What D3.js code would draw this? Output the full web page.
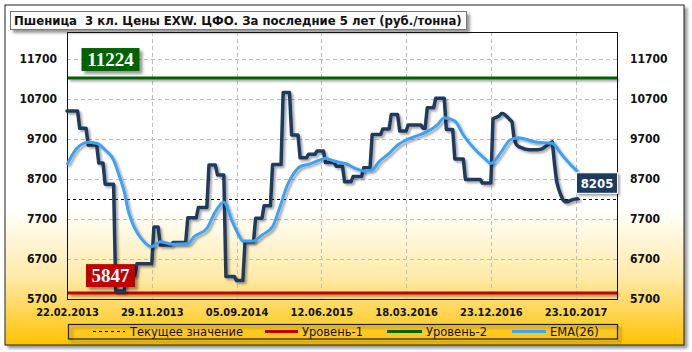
<!DOCTYPE html>
<html><head><meta charset="utf-8">
<script src="https://cdn.jsdelivr.net/npm/d3@7"></script>
<style>
body{margin:0;background:#fff}
text{font-family:"DejaVu Sans Condensed","DejaVu Sans",sans-serif;font-stretch:condensed}
</style>
</head><body>
<svg id="c" width="692" height="352"></svg>
<script>
// ---------------- data ----------------
const titleText = "Пшеница  3 кл. Цены EXW. ЦФО. За последние 5 лет (руб./тонна)";
const yTicks = [5700, 6700, 7700, 8700, 9700, 10700, 11700];
const dateLabels = ["22.02.2013","29.11.2013","05.09.2014","12.06.2015","18.03.2016","23.12.2016","23.10.2017"];
const dateLabelWeeks = [0, 40, 80, 120, 160, 200, 240];
const level1 = 5847;
const level2 = 11224;
const currentValue = 8205;
const legendNames = ["Текущее значение", "Уровень-1", "Уровень-2", "EMA(26)"];
// weekly price
const price = [
10400,10400,10400,10400,10400,10400,
9970,9970,9970,9970,
9550,9550,9550,9550,9550,
9100,9100,9100,
8570,8570,8570,8570,8570,
5900,5900,5900,5900,5900,
6290,6290,6290,6290,6290,
6580,6580,6580,6580,6580,6580,6580,6580,
7500,7500,7500,
7050,7050,7050,7050,7050,7050,
7110,7110,7110,7110,7110,7110,7110,
7730,7730,7730,7730,7730,
7990,7990,7990,7990,7990,
9050,9050,9050,9050,
8800,8800,8800,8800,
6260,6260,6260,6260,6260,
6160,6160,6160,6160,
7130,7130,7130,7130,7130,
7720,7720,7720,7720,
8030,8030,8030,8030,
9060,9060,9060,9060,9060,
10860,10860,10860,10860,
9800,9800,9800,9800,
9230,9230,9230,9230,
9320,9320,9320,9320,
9400,9400,9400,9400,
9110,9110,9110,9110,9110,
9020,9020,9020,9020,
8630,8630,8630,8630,
8760,8760,8760,8760,8760,
8980,8980,8980,8980,
9810,9810,9810,9810,9810,
9950,9950,9950,9950,
10310,10310,10310,10310,
9900,9900,9900,9900,
10050,10050,10050,10050,10050,10050,10050,
9970,9970,
10480,10480,10480,10480,
10720,10720,10720,10720,10720,
9940,9940,9940,9940,
9200,9200,9200,9200,9200,
8690,8690,8690,8690,8690,8690,8690,8690,
8600,8600,8600,8600,8600,
10200,10230,10250,10280,10340,10330,10290,10240,10180,10130,
9700,9560,9510,9490,9470,9450,9440,9430,9430,9430,
9430,9430,9440,9450,9480,9520,9560,9600,9630,9100,
8650,8450,8300,8180,8130,8130,8150,8170,8190,8200,
8205
];
// EMA(26)
const emaWeeks = [0,4,7,10,14,18,22,24,27,29,32,35,40,44,50,57,60,66,70,74,78,81,83,88,92,97,100,104,107,110,114,118,122,126,132,136,140,144,147,152,156,160,164,170,175,178,183,187,192,197,200,205,209,213,216,222,229,233,237,241];
const emaValues = [9050,9425,9567,9617,9592,9425,9175,8883,8383,7883,7467,7217,7008,7133,7070,7080,7258,7467,7883,8117,7633,7300,7150,7150,7300,7508,7925,8550,8842,9008,9067,9150,9217,9150,9075,8967,8900,8925,9117,9342,9550,9675,9758,9883,10067,10233,10150,9800,9467,9217,9092,9383,9675,9733,9700,9617,9592,9342,9092,8880];

// ---------------- layout ----------------
const L = 67, R = 618, T = 32, B = 299;
const svg = d3.select("#c");
const defs = svg.append("defs");
const g1 = defs.append("linearGradient").attr("id","bg").attr("x1",0).attr("y1",0).attr("x2",0).attr("y2",1);
g1.append("stop").attr("offset","0").attr("stop-color","#ffffff");
g1.append("stop").attr("offset","0.6").attr("stop-color","#ffffff");
g1.append("stop").attr("offset","0.8").attr("stop-color","#ffeaa8");
g1.append("stop").attr("offset","1").attr("stop-color","#ffc200");
function shadow(id, dx, dy, sd, op){
  const f = defs.append("filter").attr("id",id).attr("filterUnits","userSpaceOnUse")
    .attr("x",0).attr("y",0).attr("width",692).attr("height",352);
  f.append("feDropShadow").attr("dx",dx).attr("dy",dy).attr("stdDeviation",sd).attr("flood-color","#000").attr("flood-opacity",op);
}
shadow("sh", 2, 2, 1, 0.35);
shadow("shBox", 3, 3, 1.5, 0.4);

// outer frame
svg.append("rect").attr("x",5).attr("y",5).attr("width",679).attr("height",340)
  .attr("fill","url(#bg)").attr("stroke","#222").attr("stroke-width",1).attr("filter","url(#shBox)");

// title
svg.append("rect").attr("x",10.5).attr("y",11.5).attr("width",456).attr("height",18)
  .attr("fill","#fcfcfc").attr("stroke","#777").attr("filter","url(#shBox)");
const title = svg.append("text").attr("x",14).attr("y",25).attr("font-size",12.5).attr("font-weight","bold")
  .style("white-space","pre").attr("fill","#111").text(titleText);
const tw = title.node().getComputedTextLength();
if (tw > 0) title.attr("font-size", 12.5 * 448 / tw);

// scales
const x = d3.scaleLinear().domain([0, 260]).range([L, R]);
const y = d3.scaleLinear().domain([5700, 12375]).range([B, T]);

// grid
const grid = svg.append("g").attr("stroke","#bdbdbd").attr("stroke-dasharray","4,3").attr("stroke-width",1);
grid.selectAll("line.h").data(yTicks).join("line").attr("class","h")
  .attr("x1",L).attr("x2",R).attr("y1",d=>Math.round(y(d))+0.5).attr("y2",d=>Math.round(y(d))+0.5);
grid.selectAll("line.v").data(dateLabelWeeks.slice(1)).join("line").attr("class","v")
  .attr("x1",d=>Math.round(x(d))+0.5).attr("x2",d=>Math.round(x(d))+0.5).attr("y1",T).attr("y2",B);

// axes labels
const axL = svg.append("g").attr("transform",`translate(${L},0)`)
  .call(d3.axisLeft(y).tickValues(yTicks).tickSize(0).tickPadding(10).tickFormat(d3.format("d")));
const axR = svg.append("g").attr("transform",`translate(${R},0)`)
  .call(d3.axisRight(y).tickValues(yTicks).tickSize(0).tickPadding(12).tickFormat(d3.format("d")));
const axB = svg.append("g").attr("transform",`translate(0,${B})`)
  .call(d3.axisBottom(x).tickValues(dateLabelWeeks).tickSize(0).tickPadding(9).tickFormat((d,i)=>dateLabels[i]));
[axL, axR].forEach(a => { a.select(".domain").remove();
  a.selectAll("text").attr("font-size",12).attr("font-weight","bold").attr("fill","#111")
   .style("font-family",'"DejaVu Sans Condensed","DejaVu Sans",sans-serif'); });
axB.select(".domain").remove();
axB.selectAll("text").attr("font-size",11).attr("font-weight","bold").attr("fill","#111")
   .style("font-family",'"DejaVu Sans Condensed","DejaVu Sans",sans-serif');

// plot border
svg.append("rect").attr("x",L+0.5).attr("y",T+0.5).attr("width",R-L-1).attr("height",B-T)
  .attr("fill","none").attr("stroke","#111").attr("stroke-width",1);

// level lines
svg.append("line").attr("x1",L+1).attr("x2",R-1).attr("y1",y(level2)).attr("y2",y(level2))
  .attr("stroke","#006400").attr("stroke-width",3).attr("filter","url(#sh)");
svg.append("line").attr("x1",L+1).attr("x2",R-1).attr("y1",y(level1)).attr("y2",y(level1))
  .attr("stroke","#c00000").attr("stroke-width",3).attr("filter","url(#sh)");
// current value dashed
svg.append("line").attr("x1",L).attr("x2",R).attr("y1",Math.round(y(currentValue))+0.5).attr("y2",Math.round(y(currentValue))+0.5)
  .attr("stroke","#000").attr("stroke-width",1).attr("stroke-dasharray","3,3");

// price line
const priceLine = d3.line().x((d,i)=>x(i)).y(d=>y(d));
svg.append("path").datum(price).attr("d",priceLine).attr("fill","none")
  .attr("stroke","#1f3a5f").attr("stroke-width",3.5).attr("stroke-linejoin","round").attr("stroke-linecap","round")
  .attr("filter","url(#sh)");
// EMA line
const emaLine = d3.line().x((d,i)=>x(emaWeeks[i])).y(d=>y(d)).curve(d3.curveMonotoneX);
svg.append("path").datum(emaValues).attr("d",emaLine).attr("fill","none")
  .attr("stroke","#3ea2f7").attr("stroke-width",3).attr("stroke-linejoin","round").attr("filter","url(#sh)");

// level labels
function levelLabel(val, fill, w, off){
  const cx = 110.5, h = 23, top = y(val) - off;
  const g = svg.append("g");
  g.append("rect").attr("x",cx-w/2).attr("y",top).attr("width",w).attr("height",h).attr("fill",fill).attr("filter","url(#shBox)");
  g.append("text").attr("x",cx).attr("y",top+h/2).attr("dy","0.36em").attr("text-anchor","middle")
    .attr("fill","#fff").attr("font-size",19).attr("font-weight","bold")
    .style("font-family",'"Liberation Serif","Times New Roman",serif').style("font-stretch","normal").text(val);
}
levelLabel(level2, "#006400", 58, 30);
levelLabel(level1, "#c00000", 49, 29);

// current value label
const cy = y(currentValue);
svg.append("rect").attr("x",576.5).attr("y",cy-26).attr("width",41).attr("height",20.5)
  .attr("fill","#1f3a5f").attr("stroke","#fff").attr("stroke-width",1).attr("filter","url(#sh)");
svg.append("text").attr("x",597).attr("y",cy-15.5).attr("dy","0.36em").attr("text-anchor","middle")
  .attr("fill","#fff").attr("font-size",13).attr("font-weight","bold").text(currentValue);

// legend
svg.append("rect").attr("x",68.5).attr("y",324.5).attr("width",549).attr("height",14.5)
  .attr("fill","none").attr("stroke","#222").attr("stroke-width",1.2).attr("filter","url(#shBox)");
const legItems = [
  {x1:93, x2:125, tx:130, stroke:"#000", w:1, dash:"3,3"},
  {x1:265, x2:298, tx:302, stroke:"#c00000", w:3, dash:null},
  {x1:387, x2:422, tx:426, stroke:"#006400", w:3, dash:null},
  {x1:512, x2:546, tx:550, stroke:"#3ea2f7", w:3, dash:null}
];
legItems.forEach((it,i)=>{
  svg.append("line").attr("x1",it.x1).attr("x2",it.x2).attr("y1",331.5).attr("y2",331.5)
    .attr("stroke",it.stroke).attr("stroke-width",it.w).attr("stroke-dasharray",it.dash);
  svg.append("text").attr("x",it.tx).attr("y",336).attr("font-size",11.5).attr("fill","#111")
    .style("font-family",'"DejaVu Sans",sans-serif').style("font-stretch","normal").text(legendNames[i]);
});
</script>
</body></html>
